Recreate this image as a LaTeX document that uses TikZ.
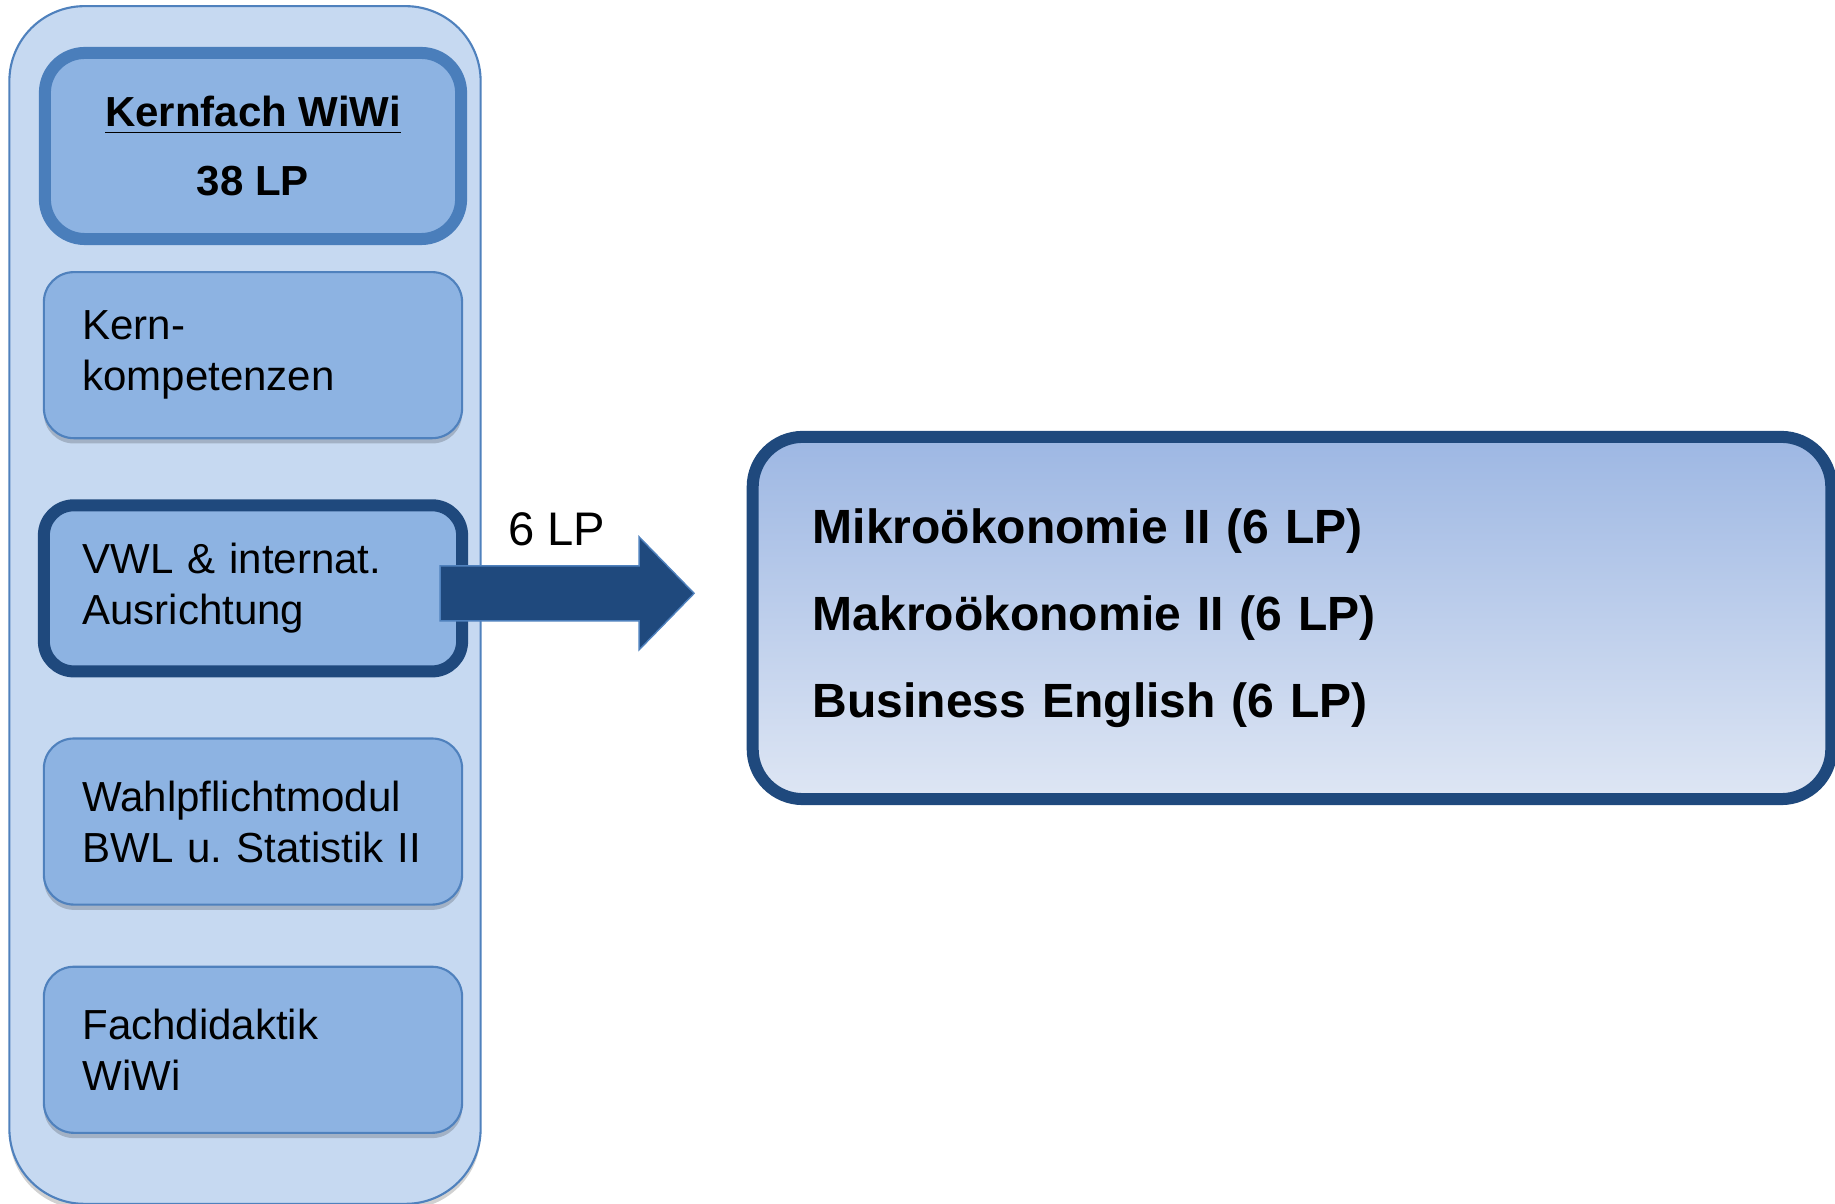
\documentclass[tikz,border=0pt]{standalone}
\usepackage{fontspec}
\setmainfont{Liberation Sans}
\usetikzlibrary{positioning, shadows}
\frenchspacing

\definecolor{hellblau}{HTML}{C6D9F1}
\definecolor{boxblau}{HTML}{8DB3E2}
\definecolor{randblau}{HTML}{4F81BD}
\definecolor{kernrand}{HTML}{4A7EBB}
\definecolor{dunkelblau}{HTML}{1F497D}
\definecolor{verlaufoben}{HTML}{9DB7E3}
\definecolor{verlaufunten}{HTML}{DEE6F4}

\tikzset{
	schatten/.style={drop shadow={shadow xshift=0pt, shadow yshift=-1.5pt, opacity=0.18, fill=black}},
	modbox/.style={draw=randblau, line width=0.6pt, fill=boxblau, rounded corners=0.3cm,
		minimum height=1.66cm, text width=3.41cm, inner xsep=0.385cm, align=left, schatten},
	kernbox/.style={draw=kernrand, line width=0.12cm, fill=boxblau, rounded corners=0.4cm,
		minimum width=4.16cm, minimum height=1.86cm, align=center, schatten,
		font=\fontsize{11.95}{14.5}\selectfont\bfseries},
	zielbox/.style={draw=dunkelblau, line width=0.12cm, top color=verlaufoben, bottom color=verlaufunten,
		rounded corners=0.5cm, minimum width=10.78cm, minimum height=3.62cm, text width=9.58cm,
		inner xsep=0.6cm, align=left, schatten, font=\fontsize{13.66}{24.75}\selectfont\bfseries},
	pfeil/.style={fill=dunkelblau, draw=randblau, line width=0.4pt}
}

\begin{document}
\begin{tikzpicture}[x=0.01cm, y=-0.01cm, node distance=0.6cm,
	every node/.style={font=\fontsize{11.95}{14.5}\selectfont}]
	\useasboundingbox (0,0) rectangle (1835,1204);
	
	\node[draw=randblau, line width=0.6pt, fill=hellblau, rounded corners=0.75cm,
		minimum width=4.71cm, minimum height=11.97cm, schatten] (cont) at (245,605) {};
	
	\node[kernbox] (kern) at (253,146) {\underline{Kernfach WiWi}\\[4.85pt]38 LP};
	\node[modbox, below=0.26cm of kern] (komp) {Kern-\\kompetenzen};
	\node[modbox, draw=dunkelblau, line width=0.12cm, below=of komp] (vwl) {VWL \& internat.\\Ausrichtung};
	\node[modbox, below=of vwl] (wahl) {Wahlpflichtmodul\\BWL u. Statistik II};
	\node[modbox, below=of wahl] (fach) {Fachdidaktik\\WiWi};
	
	\node[zielbox] (ziel) at (1292,618) {Mikroökonomie II (6 LP)\\Makroökonomie II (6 LP)\\Business English (6 LP)};
	
	\coordinate (p) at ([xshift=-0.28cm, yshift=-0.05cm]vwl.east);
	\filldraw[pfeil] (p) -- ++(0,-27.5) -- ++(199,0) -- ++(0,-29) -- ++(55,56.5)
		-- ++(-55,56.5) -- ++(0,-29) -- ++(-199,0) -- cycle;
	\node[font=\fontsize{13.4}{16}\selectfont] (lp) at (557,529) {6 LP};
\end{tikzpicture}
\end{document}
